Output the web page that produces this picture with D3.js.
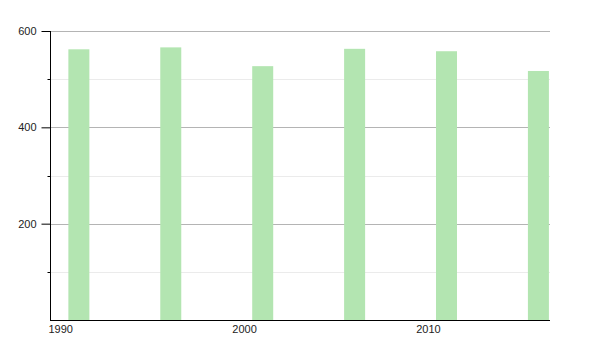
<!DOCTYPE html>
<html>
<head>
<meta charset="utf-8">
<script src="https://cdn.jsdelivr.net/npm/d3@7"></script>
<style>
  body { margin: 0; background: #fff; }
  text { font-family: "Liberation Sans", Arial, sans-serif; }
</style>
</head>
<body>
<svg></svg>
<script>
var width = 600;
var height = 350;
var margin = {top: 31, right: 50, bottom: 30, left: 50};

// bar years and values
var years = [1991, 1996, 2001, 2006, 2011, 2016];
var values = [562, 566, 527, 563, 558, 517];
var yMajor = [200, 400, 600];
var yMinor = [100, 300, 500];
var xTicks = [1990, 2000, 2010];

var data = years.map((y, i) => ({date: new Date(y, 0, 1), value: values[i]}));

var xScale = d3.scaleTime()
    .domain([new Date(1990, 0, 1), new Date(2017, 2, 15)])
    .range([margin.left, width - margin.right]);

var yScale = d3.scaleLinear()
    .domain([0, 600])
    .range([height - margin.bottom, margin.top]);

var svg = d3.select("svg")
    .attr("width", width)
    .attr("height", height);

// grid
svg.append("g")
    .selectAll("line")
    .data(yMinor)
    .enter()
    .append("line")
        .attr("x1", margin.left)
        .attr("x2", width - margin.right)
        .attr("y1", d => Math.round(yScale(d)) + 0.5)
        .attr("y2", d => Math.round(yScale(d)) + 0.5)
        .attr("stroke", "#ebebeb");

svg.append("g")
    .selectAll("line")
    .data(yMajor)
    .enter()
    .append("line")
        .attr("x1", margin.left)
        .attr("x2", width - margin.right)
        .attr("y1", d => Math.round(yScale(d)) + 0.5)
        .attr("y2", d => Math.round(yScale(d)) + 0.5)
        .attr("stroke", "#b4b4b4");

// bars
var barWidth = 21;
svg.append("g")
    .selectAll("rect")
    .data(data)
    .enter()
    .append("rect")
        .attr("x", d => xScale(d.date))
        .attr("y", d => yScale(d.value))
        .attr("width", barWidth)
        .attr("height", d => yScale(0) - yScale(d.value))
        .attr("fill", "#b3e5b1");

// y axis
var yAxis = svg.append("g")
    .attr("transform", "translate(" + (margin.left + 0.5) + ",0)")
    .call(d3.axisLeft(yScale).tickValues(yMajor).tickSize(9).tickPadding(5).tickFormat(d3.format("d")));
yAxis.select(".domain").remove();
yAxis.selectAll("text").attr("font-size", 11).attr("fill", "#222");

svg.append("g")
    .attr("transform", "translate(" + (margin.left + 0.5) + ",0)")
    .selectAll("line")
    .data(yMinor)
    .enter()
    .append("line")
        .attr("x1", -3)
        .attr("x2", 0)
        .attr("y1", d => Math.round(yScale(d)) + 0.5)
        .attr("y2", d => Math.round(yScale(d)) + 0.5)
        .attr("stroke", "#000");

svg.append("line")
    .attr("x1", margin.left + 0.5)
    .attr("x2", margin.left + 0.5)
    .attr("y1", yScale(600))
    .attr("y2", yScale(0))
    .attr("stroke", "#000");

// x axis
var xAxis = svg.append("g")
    .attr("transform", "translate(0," + (yScale(0) + 0.5) + ")")
    .call(d3.axisBottom(xScale)
        .tickValues(xTicks.map(y => new Date(y, 0, 1)))
        .tickSize(0)
        .tickPadding(5)
        .tickFormat(d3.timeFormat("%Y")));
xAxis.select(".domain").attr("d", "M" + margin.left + ",0H" + (width - margin.right));
xAxis.selectAll("text")
    .attr("font-size", 11)
    .attr("fill", "#222")
    .attr("text-anchor", "start")
    .attr("dx", -2);
</script>
</body>
</html>
